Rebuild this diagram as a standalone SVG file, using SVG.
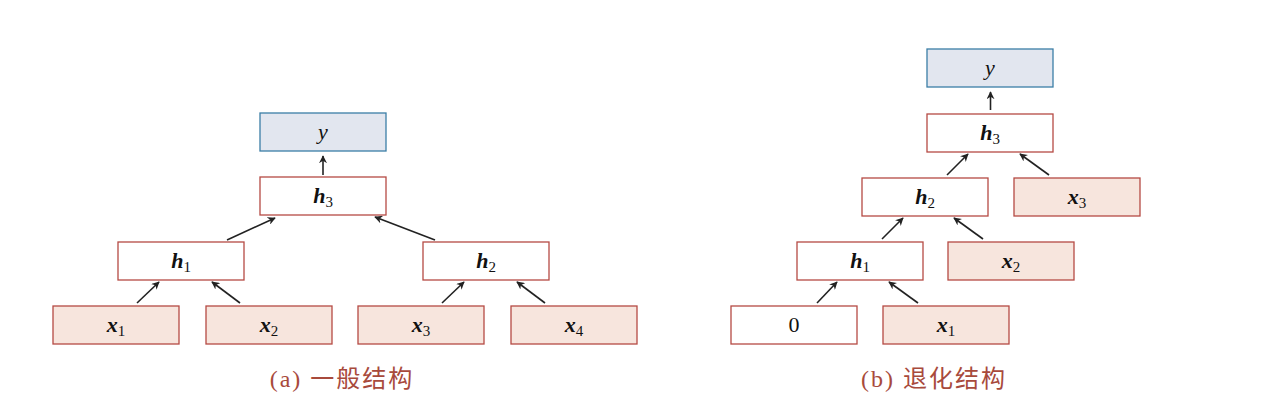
<svg xmlns="http://www.w3.org/2000/svg" width="1270" height="416" viewBox="0 0 1270 416">
<defs>
<marker id="ah" viewBox="0 0 10 10" refX="9" refY="5" markerWidth="8" markerHeight="8" markerUnits="userSpaceOnUse" orient="auto">
<path d="M0,0 L10,5 L0,10 L3,5 z" fill="#222"/>
</marker>
<style>
.r{fill:#fff;stroke:#b54a44;stroke-width:1.3}
.x{fill:#f7e5dd;stroke:#b54a44;stroke-width:1.3}
.o{fill:#e2e6ef;stroke:#3b7ea6;stroke-width:1.3}
.t{font-family:"Liberation Serif",serif;font-size:22px;font-style:italic;font-weight:bold;fill:#111;text-anchor:middle}
.s{font-size:15px;font-style:normal;font-weight:normal}
.y{font-weight:normal}
.n{font-style:normal;font-weight:normal}
.cap{font-family:"Liberation Serif","Noto Sans CJK SC",serif;font-size:24px;letter-spacing:2px;fill:#a84a3c;text-anchor:middle}
.c line{stroke:#222;stroke-width:1.6;marker-end:url(#ah)}
</style>
</defs>
<rect width="1270" height="416" fill="#fff"/>
<g id="a-y"><rect class="o" x="260" y="113" width="126" height="38"/><text class="t y" x="323" y="139">y</text></g>
<g id="a-h3"><rect class="r" x="260" y="177" width="126" height="38"/><text class="t" x="323" y="203">h<tspan class="s" dy="4">3</tspan></text></g>
<g id="a-h1"><rect class="r" x="118" y="242" width="126" height="38"/><text class="t" x="181" y="268">h<tspan class="s" dy="4">1</tspan></text></g>
<g id="a-h2"><rect class="r" x="423" y="242" width="126" height="38"/><text class="t" x="486" y="268">h<tspan class="s" dy="4">2</tspan></text></g>
<g id="a-x1"><rect class="x" x="53" y="306" width="126" height="38"/><text class="t" x="116" y="332">x<tspan class="s" dy="4">1</tspan></text></g>
<g id="a-x2"><rect class="x" x="206" y="306" width="126" height="38"/><text class="t" x="269" y="332">x<tspan class="s" dy="4">2</tspan></text></g>
<g id="a-x3"><rect class="x" x="358" y="306" width="126" height="38"/><text class="t" x="421" y="332">x<tspan class="s" dy="4">3</tspan></text></g>
<g id="a-x4"><rect class="x" x="511" y="306" width="126" height="38"/><text class="t" x="574" y="332">x<tspan class="s" dy="4">4</tspan></text></g>

<g id="b-y"><rect class="o" x="927" y="49" width="126" height="38"/><text class="t y" x="990" y="75">y</text></g>
<g id="b-h3"><rect class="r" x="927" y="114" width="126" height="38"/><text class="t" x="990" y="140">h<tspan class="s" dy="4">3</tspan></text></g>
<g id="b-h2"><rect class="r" x="862" y="178" width="126" height="38"/><text class="t" x="925" y="204">h<tspan class="s" dy="4">2</tspan></text></g>
<g id="b-x3"><rect class="x" x="1014" y="178" width="126" height="38"/><text class="t" x="1077" y="204">x<tspan class="s" dy="4">3</tspan></text></g>
<g id="b-h1"><rect class="r" x="797" y="242" width="126" height="38"/><text class="t" x="860" y="268">h<tspan class="s" dy="4">1</tspan></text></g>
<g id="b-x2"><rect class="x" x="948" y="242" width="126" height="38"/><text class="t" x="1011" y="268">x<tspan class="s" dy="4">2</tspan></text></g>
<g id="b-0"><rect class="r" x="731" y="306" width="126" height="38"/><text class="t n" x="794" y="332">0</text></g>
<g id="b-x1"><rect class="x" x="883" y="306" width="126" height="38"/><text class="t" x="946" y="332">x<tspan class="s" dy="4">1</tspan></text></g>

<g id="connectors" class="c">
<line x1="323" y1="175" x2="323" y2="156"/>
<line x1="227" y1="240" x2="275" y2="218"/>
<line x1="435" y1="240" x2="375" y2="217"/>
<line x1="137" y1="303" x2="159" y2="282"/>
<line x1="240" y1="303" x2="212" y2="282"/>
<line x1="442" y1="303" x2="464" y2="282"/>
<line x1="545" y1="303" x2="517" y2="282"/>

<line x1="990.5" y1="110" x2="990.5" y2="92"/>
<line x1="947" y1="175" x2="968" y2="154"/>
<line x1="1049" y1="175" x2="1020" y2="154"/>
<line x1="882" y1="239" x2="903" y2="218"/>
<line x1="983" y1="239" x2="954" y2="218"/>
<line x1="817" y1="303" x2="837" y2="282"/>
<line x1="918" y1="303" x2="889" y2="282"/>
</g>
<text class="cap" x="342" y="387">(a) 一般结构</text>
<text class="cap" x="934" y="387">(b) 退化结构</text>
</svg>
